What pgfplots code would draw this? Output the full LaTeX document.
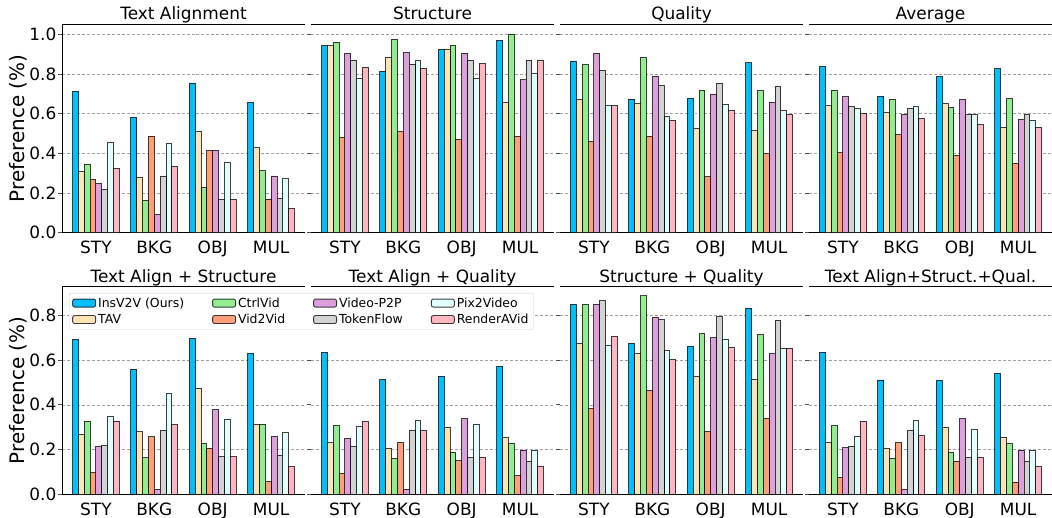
\documentclass[border=0pt]{standalone}
\usepackage{fontspec}
\setmainfont{DejaVu Sans}
\usepackage{pgfplots}
\usepackage{pgfplotstable}
\pgfplotsset{compat=1.18}

\definecolor{cIns}{HTML}{00BFFF}
\definecolor{cTAV}{HTML}{FFE4B5}
\definecolor{cCtrl}{HTML}{90EE90}
\definecolor{cVtoV}{HTML}{FFA07A}
\definecolor{cPtoP}{HTML}{DDA0DD}
\definecolor{cTF}{HTML}{D3D3D3}
\definecolor{cPix}{HTML}{E0FFFF}
\definecolor{cRAV}{HTML}{FFB6C1}

% columns: x ins tav ctrl vv pp tf pix rav
\pgfplotstableread{
x ins tav ctrl vv pp tf pix rav
0 0.714 0.308 0.345 0.269 0.249 0.218 0.455 0.324
1 0.582 0.277 0.163 0.487 0.092 0.286 0.450 0.333
2 0.755 0.509 0.227 0.415 0.415 0.167 0.355 0.167
3 0.657 0.429 0.313 0.170 0.286 0.173 0.272 0.123
}\tTA
\pgfplotstableread{
x ins tav ctrl vv pp tf pix rav
0 0.943 0.943 0.961 0.481 0.904 0.871 0.776 0.834
1 0.813 0.884 0.976 0.511 0.908 0.850 0.869 0.829
2 0.924 0.924 0.945 0.471 0.906 0.871 0.778 0.854
3 0.971 0.657 1.000 0.486 0.771 0.871 0.805 0.871
}\tST
\pgfplotstableread{
x ins tav ctrl vv pp tf pix rav
0 0.866 0.672 0.847 0.461 0.904 0.820 0.640 0.640
1 0.674 0.650 0.884 0.487 0.790 0.743 0.587 0.566
2 0.679 0.528 0.718 0.282 0.697 0.753 0.649 0.615
3 0.857 0.514 0.716 0.400 0.657 0.738 0.615 0.595
}\tQU
\pgfplotstableread{
x ins tav ctrl vv pp tf pix rav
0 0.839 0.640 0.718 0.403 0.686 0.635 0.625 0.600
1 0.689 0.605 0.674 0.494 0.597 0.625 0.635 0.576
2 0.787 0.652 0.630 0.390 0.672 0.597 0.595 0.545
3 0.827 0.533 0.676 0.351 0.571 0.595 0.565 0.531
}\tAV
\pgfplotstableread{
x ins tav ctrl vv pp tf pix rav
0 0.693 0.268 0.327 0.097 0.212 0.218 0.348 0.327
1 0.559 0.280 0.163 0.257 0.022 0.287 0.453 0.310
2 0.698 0.472 0.227 0.207 0.378 0.167 0.333 0.167
3 0.630 0.314 0.314 0.057 0.257 0.175 0.275 0.125
}\tTAS
\pgfplotstableread{
x ins tav ctrl vv pp tf pix rav
0 0.635 0.230 0.307 0.094 0.249 0.215 0.304 0.325
1 0.513 0.207 0.161 0.231 0.022 0.285 0.332 0.285
2 0.528 0.301 0.188 0.151 0.338 0.165 0.311 0.165
3 0.572 0.256 0.228 0.083 0.198 0.148 0.198 0.124
}\tTAQ
\pgfplotstableread{
x ins tav ctrl vv pp tf pix rav
0 0.849 0.674 0.849 0.383 0.849 0.866 0.666 0.705
1 0.675 0.629 0.887 0.465 0.791 0.782 0.644 0.601
2 0.662 0.528 0.718 0.280 0.699 0.793 0.694 0.657
3 0.832 0.514 0.714 0.341 0.629 0.779 0.653 0.653
}\tSQ
\pgfplotstableread{
x ins tav ctrl vv pp tf pix rav
0 0.635 0.230 0.307 0.075 0.209 0.216 0.259 0.325
1 0.511 0.207 0.161 0.231 0.022 0.285 0.332 0.261
2 0.508 0.301 0.188 0.149 0.338 0.165 0.289 0.165
3 0.541 0.256 0.228 0.055 0.198 0.148 0.198 0.124
}\tTASQ

\pgfplotsset{
  bstyle/.style={ybar, bar width=0.1, draw=black, draw opacity=0.75, line width=0.9bp,
    legend image code/.code={\draw[##1] (0bp,-4bp) rectangle (23bp,4bp);}},
  panel/.style={
    scale only axis, width=243bp,
    xmin=-0.58, xmax=3.58, ymin=0,
    xtick={0,1,2,3}, xticklabels={STY,BKG,OBJ,MUL},
    axis x line*=box, axis y line*=left,
    x axis line style={line width=0.9bp, black, -},
    y axis line style={line width=0.9bp, black, -},
    ymajorgrids, grid style={densely dashed, gray!75, line width=0.6bp},
    xtick style={draw=none},
    ytick style={draw=black!70, line width=0.8bp},
    tick align=outside, major tick length=4.5bp,
    tick label style={font=\fontsize{17}{20}\selectfont},
    every axis title/.style={font=\fontsize{17}{20}\selectfont, at={(0.5,1)}, anchor=base, yshift=4.5bp, inner sep=0pt},
    xticklabel style={anchor=base, yshift=-16.3bp, inner sep=0pt},
    yticklabel style={anchor=east, inner sep=0pt, xshift=-1bp,
      /pgf/number format/fixed, /pgf/number format/fixed zerofill, /pgf/number format/precision=1},
    /pgf/number format/assume math mode=true,
    every axis y label/.style={at={(axis description cs:-0.156,0.5)}, rotate=90, anchor=base,
      font=\fontsize{20}{24}\selectfont},
  },
  toprow/.style={panel, height=208.4bp, ymax=1.051, ytick={0,0.2,0.4,0.6,0.8,1.0}},
  botrow/.style={panel, height=207.6bp, ymax=0.928, ytick={0,0.2,0.4,0.6,0.8}},
  noy/.style={yticklabels={}, y axis line style={draw=none}},
}

\newcommand{\bars}[1]{%
  \addplot[bstyle, bar shift=-0.35, fill=cIns]  table[x=x,y=ins]{#1};
  \addplot[bstyle, bar shift=-0.15, fill=cCtrl] table[x=x,y=ctrl]{#1};
  \addplot[bstyle, bar shift=0.05,  fill=cPtoP] table[x=x,y=pp]{#1};
  \addplot[bstyle, bar shift=0.25,  fill=cPix]  table[x=x,y=pix]{#1};
  \addplot[bstyle, bar shift=-0.25, fill=cTAV]  table[x=x,y=tav]{#1};
  \addplot[bstyle, bar shift=-0.05, fill=cVtoV] table[x=x,y=vv]{#1};
  \addplot[bstyle, bar shift=0.15,  fill=cTF]   table[x=x,y=tf]{#1};
  \addplot[bstyle, bar shift=0.35,  fill=cRAV]  table[x=x,y=rav]{#1};
}

\begin{document}
\begin{tikzpicture}[x=1bp,y=1bp]
\path[use as bounding box] (0,0) rectangle (1052,518);

% top row
\begin{axis}[toprow, at={(62bp,285.3bp)}, anchor=south west, title={Text Alignment}, ylabel={Preference (\%)}]
\bars{\tTA}
\end{axis}
\begin{axis}[toprow, noy, at={(311bp,285.3bp)}, anchor=south west, title={Structure}]
\bars{\tST}
\end{axis}
\begin{axis}[toprow, noy, at={(560bp,285.3bp)}, anchor=south west, title={Quality}]
\bars{\tQU}
\end{axis}
\begin{axis}[toprow, noy, at={(809bp,285.3bp)}, anchor=south west, title={Average}]
\bars{\tAV}
\end{axis}

% bottom row
\begin{axis}[botrow, noy, at={(311bp,23.7bp)}, anchor=south west, title={Text Align + Quality}]
\bars{\tTAQ}
\end{axis}
\begin{axis}[botrow, noy, at={(560bp,23.7bp)}, anchor=south west, title={Structure + Quality}]
\bars{\tSQ}
\end{axis}
\begin{axis}[botrow, noy, at={(809bp,23.7bp)}, anchor=south west, title={Text Align+Struct.+Qual.}]
\bars{\tTASQ}
\end{axis}
\begin{axis}[botrow, at={(62bp,23.7bp)}, anchor=south west, title={Text Align + Structure}, ylabel={Preference (\%)},
  legend columns=4, legend cell align=left,
  legend style={at={(axis description cs:0.029,0.970)}, anchor=north west,
    font=\fontsize{12.5}{14}\selectfont, fill=white, draw=gray!35, rounded corners=2bp,
    inner xsep=3bp, inner ysep=2.5bp, row sep=1.5bp,
    /tikz/every even column/.append style={column sep=26bp}}]
\bars{\tTAS}
\legend{InsV2V (Ours), CtrlVid, Video-P2P, Pix2Video, TAV, Vid2Vid, TokenFlow, RenderAVid}
\end{axis}
\end{tikzpicture}
\end{document}
